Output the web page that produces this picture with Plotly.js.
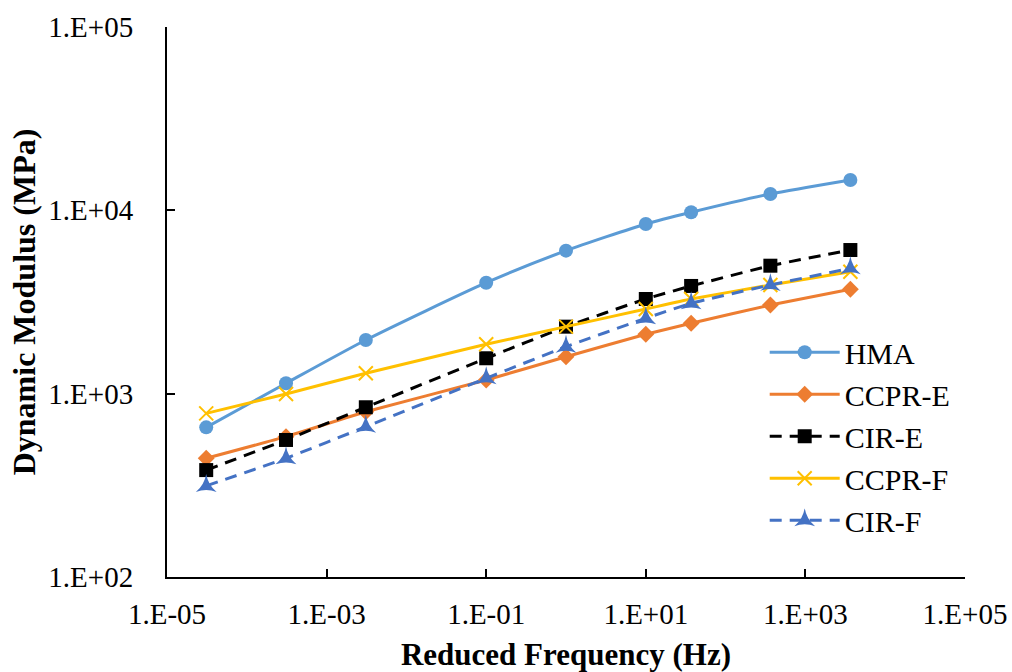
<!DOCTYPE html>
<html>
<head>
<meta charset="utf-8">
<script src="https://cdn.plot.ly/plotly-3.0.1.min.js"></script>
<style>
  html, body { margin: 0; padding: 0; background: #fff; }
  #chart { width: 1012px; height: 672px; }
</style>
</head>
<body>
<div id="chart"></div>
<script>
// Reduced frequency (Hz)
const frequency = [3.1e-5, 3.1e-4, 3.1e-3, 0.1, 1, 10, 37, 364, 3660];
// Dynamic modulus (MPa)
const hma   = [655, 1139, 1962, 4030, 6025, 8424, 9757, 12280, 14640];
const ccprE = [444, 583, 797, 1187, 1591, 2108, 2420, 3045, 3710];
const cirE  = [383, 559, 843, 1560, 2320, 3284, 3868, 4989, 6074];
const ccprF = [781, 996, 1292, 1859, 2320, 2896, 3284, 3915, 4627];
const cirF  = [314, 444, 660, 1213, 1804, 2577, 3111, 3915, 4830];
const seriesNames = ['HMA', 'CCPR-E', 'CIR-E', 'CCPR-F', 'CIR-F'];

const xTickVals = [1e-5, 1e-3, 1e-1, 1e1, 1e3, 1e5];
const xTickText = ['1.E-05', '1.E-03', '1.E-01', '1.E+01', '1.E+03', '1.E+05'];
const yTickVals = [1e2, 1e3, 1e4, 1e5];
const yTickText = ['1.E+02', '1.E+03', '1.E+04', '1.E+05'];

const FONT = 'Liberation Serif, Times New Roman, Times, DejaVu Serif, serif';

const traces = [
  {
    x: frequency, y: hma, name: seriesNames[0], type: 'scatter', mode: 'lines+markers',
    line: { color: '#5B9BD5', width: 3, shape: 'spline', smoothing: 0.6 },
    marker: { symbol: 'circle', size: 14, color: '#5B9BD5' }
  },
  {
    x: frequency, y: ccprE, name: seriesNames[1], type: 'scatter', mode: 'lines+markers',
    line: { color: '#ED7D31', width: 3, shape: 'spline', smoothing: 0.4 },
    marker: { symbol: 'diamond', size: 13, color: '#ED7D31' }
  },
  {
    x: frequency, y: cirE, name: seriesNames[2], type: 'scatter', mode: 'lines+markers',
    line: { color: '#000000', width: 3, dash: '12px,8px', shape: 'spline', smoothing: 0.4 },
    marker: { symbol: 'square', size: 14, color: '#000000' }
  },
  {
    x: frequency, y: ccprF, name: seriesNames[3], type: 'scatter', mode: 'lines+markers',
    line: { color: '#FFC000', width: 3, shape: 'spline', smoothing: 0.4 },
    marker: { symbol: 'x-thin-open', size: 14, color: '#FFC000', line: { color: '#FFC000', width: 2 } }
  },
  {
    x: frequency, y: cirF, name: seriesNames[4], type: 'scatter', mode: 'lines+markers',
    line: { color: '#4472C4', width: 3, dash: '12px,8px', shape: 'spline', smoothing: 0.4 },
    marker: { symbol: 'star-triangle-up', size: 15, color: '#4472C4' }
  }
];

const layout = {
  width: 1012, height: 672,
  paper_bgcolor: '#ffffff', plot_bgcolor: '#ffffff',
  margin: { l: 167, r: 47, t: 27, b: 95 },
  font: { family: FONT, color: '#000000', size: 29 },
  showlegend: true,
  legend: {
    x: 0.749, y: 0.456, xanchor: 'left', yanchor: 'top',
    bgcolor: 'rgba(0,0,0,0)', borderwidth: 0,
    itemwidth: 70,
    font: { family: FONT, size: 30, color: '#000000' },
    tracegroupgap: 0
  },
  xaxis: {
    type: 'log', range: [-5, 5],
    tickmode: 'array', tickvals: xTickVals, ticktext: xTickText,
    ticks: 'inside', ticklen: 8, tickwidth: 1.5, tickcolor: '#000',
    showline: true, linecolor: '#000', linewidth: 2,
    showgrid: false, zeroline: false, mirror: false,
    tickfont: { family: FONT, size: 29, color: '#000' },
    ticklabelstandoff: 10,
    title: { text: '<b>Reduced Frequency (Hz)</b>', font: { family: FONT, size: 31, color: '#000' }, standoff: 17 }
  },
  yaxis: {
    type: 'log', range: [2, 5],
    tickmode: 'array', tickvals: yTickVals, ticktext: yTickText,
    ticks: 'inside', ticklen: 8, tickwidth: 1.5, tickcolor: '#000',
    showline: true, linecolor: '#000', linewidth: 2,
    showgrid: false, zeroline: false, mirror: false,
    tickfont: { family: FONT, size: 29, color: '#000' },
    ticklabelstandoff: 26,
    title: { text: '<b>Dynamic Modulus (MPa)</b>', font: { family: FONT, size: 32, color: '#000' }, standoff: 3 }
  }
};

Plotly.newPlot('chart', traces, layout, { displayModeBar: false, responsive: false });
</script>
</body>
</html>
